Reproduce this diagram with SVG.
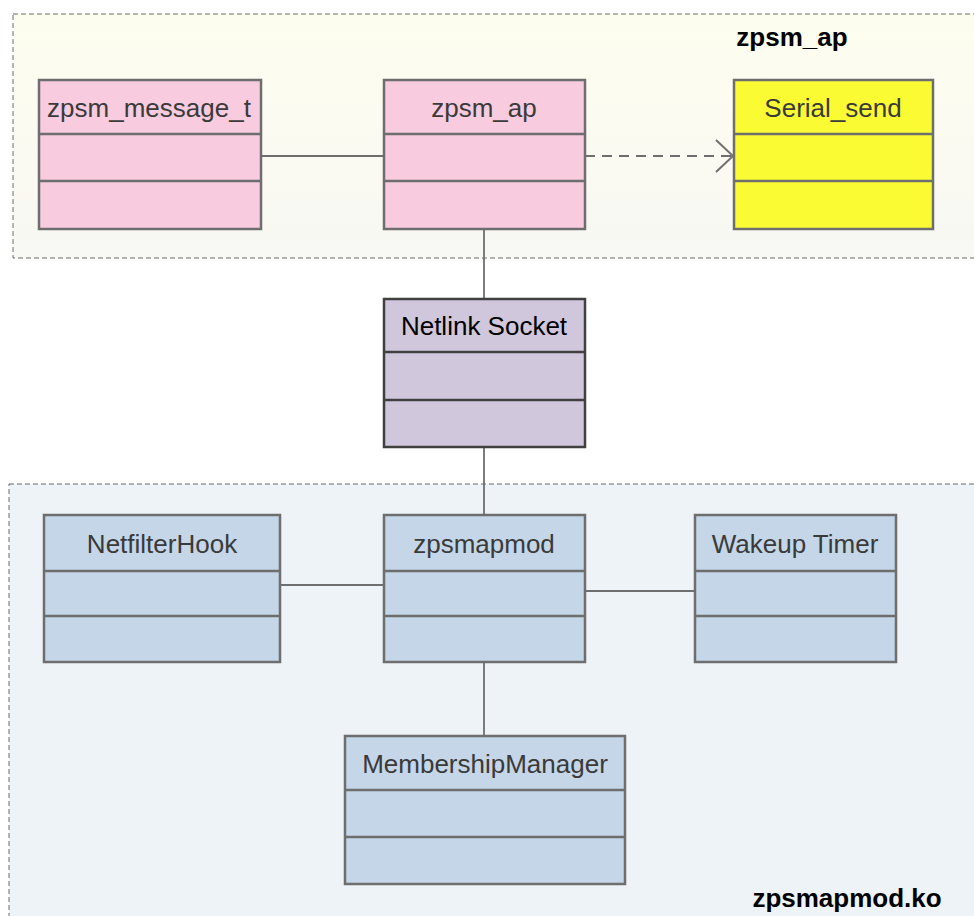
<svg xmlns="http://www.w3.org/2000/svg" width="974" height="916" viewBox="0 0 974 916">
<defs>
<linearGradient id="gTop" x1="0" y1="0" x2="0" y2="1">
<stop offset="0" stop-color="#fdfdef"/>
<stop offset="1" stop-color="#f8f8f4"/>
</linearGradient>
<marker id="open" markerWidth="22" markerHeight="36" refX="18" refY="17" orient="auto" markerUnits="userSpaceOnUse">
<path d="M1,1 L18,17 L1,33" fill="none" stroke="#707070" stroke-width="2"/>
</marker>
<style>
.pkg{stroke:#6a6a6a;stroke-width:1;stroke-dasharray:5,3}
.box{stroke:#6e6e6e;stroke-width:2.5}
.div{stroke:#6e6e6e;stroke-width:2.5}
.pink{fill:#f9cbdf}
.yel{fill:#fbfb33}
.blue{fill:#c4d6e7}
.purp{fill:#d0c7dc}
.dark{stroke:#404040}
.t{font-family:"Liberation Sans",Arial,sans-serif;font-size:26px;fill:#3a3a3a;text-anchor:middle}
.lbl{font-family:"Liberation Sans",Arial,sans-serif;font-size:26px;font-weight:bold;fill:#000;text-anchor:middle}
.con{stroke:#6e6e6e;stroke-width:1.8;fill:none}
</style>
</defs>
<g id="pkg-zpsm_ap">
<rect x="13" y="14" width="975" height="244" fill="url(#gTop)" class="pkg"/>
<text x="792" y="46" class="lbl">zpsm_ap</text>
</g>
<g id="pkg-zpsmapmod">
<rect x="9" y="484" width="980" height="445" fill="#eef3f8" class="pkg"/>
<text x="847" y="907" class="lbl">zpsmapmod.ko</text>
</g>
<g id="connectors">
<line x1="261" y1="156" x2="387" y2="156" class="con"/>
<line x1="585" y1="156" x2="733" y2="156" class="con" stroke-dasharray="10,7" marker-end="url(#open)"/>
<line x1="484" y1="229" x2="484" y2="299" class="con"/>
<line x1="484" y1="447" x2="484" y2="515" class="con"/>
<line x1="280" y1="585" x2="384" y2="585" class="con"/>
<line x1="585" y1="591" x2="695" y2="591" class="con"/>
<line x1="484" y1="662" x2="484" y2="736" class="con"/>
</g>
<g id="zpsm_message_t">
<rect x="39" y="80" width="222" height="149" class="box pink"/>
<line x1="39" y1="134" x2="261" y2="134" class="div"/>
<line x1="39" y1="181" x2="261" y2="181" class="div"/>
<text x="149" y="117" class="t">zpsm_message_t</text>
</g>
<g id="zpsm_ap">
<rect x="384" y="80" width="201" height="149" class="box pink"/>
<line x1="384" y1="134" x2="585" y2="134" class="div"/>
<line x1="384" y1="181" x2="585" y2="181" class="div"/>
<text x="484" y="117" class="t">zpsm_ap</text>
</g>
<g id="Serial_send">
<rect x="734" y="80" width="199" height="149" class="box yel"/>
<line x1="734" y1="134" x2="933" y2="134" class="div"/>
<line x1="734" y1="181" x2="933" y2="181" class="div"/>
<text x="833" y="117" class="t">Serial_send</text>
</g>
<g id="Netlink_Socket">
<rect x="384" y="299" width="201" height="148" class="box purp dark"/>
<line x1="384" y1="352" x2="585" y2="352" class="div dark"/>
<line x1="384" y1="400" x2="585" y2="400" class="div dark"/>
<text x="484" y="335" class="t" style="fill:#000">Netlink Socket</text>
</g>
<g id="NetfilterHook">
<rect x="44" y="515" width="236" height="147" class="box blue"/>
<line x1="44" y1="571" x2="280" y2="571" class="div"/>
<line x1="44" y1="616" x2="280" y2="616" class="div"/>
<text x="162" y="553" class="t">NetfilterHook</text>
</g>
<g id="zpsmapmod">
<rect x="384" y="515" width="201" height="147" class="box blue"/>
<line x1="384" y1="571" x2="585" y2="571" class="div"/>
<line x1="384" y1="616" x2="585" y2="616" class="div"/>
<text x="484" y="553" class="t">zpsmapmod</text>
</g>
<g id="Wakeup_Timer">
<rect x="695" y="515" width="201" height="147" class="box blue"/>
<line x1="695" y1="571" x2="896" y2="571" class="div"/>
<line x1="695" y1="616" x2="896" y2="616" class="div"/>
<text x="795" y="553" class="t">Wakeup Timer</text>
</g>
<g id="MembershipManager">
<rect x="345" y="736" width="280" height="148" class="box blue"/>
<line x1="345" y1="790" x2="625" y2="790" class="div"/>
<line x1="345" y1="837" x2="625" y2="837" class="div"/>
<text x="485" y="773" class="t">MembershipManager</text>
</g>
</svg>
